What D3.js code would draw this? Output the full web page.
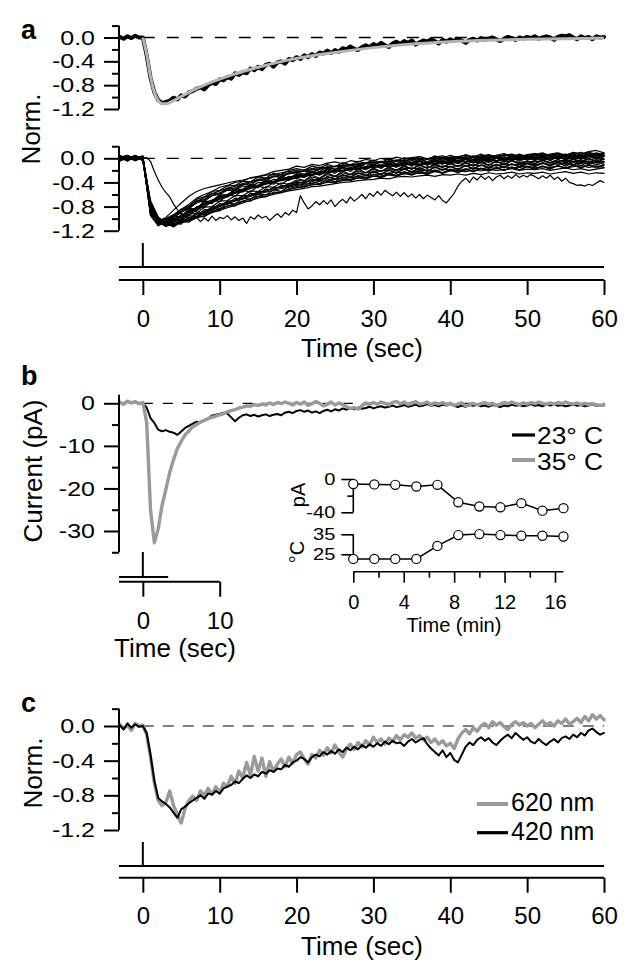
<!DOCTYPE html>
<html><head><meta charset="utf-8">
<script src="https://cdn.jsdelivr.net/npm/d3@7"></script>
<style>
body{margin:0;background:#fff}
svg{display:block}
text{font-family:"Liberation Sans",Arial,Helvetica,sans-serif;fill:#000}
</style>
</head><body>
<svg id="fig" width="630" height="975"></svg>
<script>
// ---------- sampling of the traces ----------
const T0 = -3;          // first sample time (s)
const DT = 0.5;         // sample step of single traces (s)
const DT_BUNDLE = 1;    // sample step of the bundle traces (s)

// ---------- panel a (top): mean normalized response and fit ----------
const aMean = [0.01,-0.02,0.02,-0.01,0.03,0.00,
 0.00,-0.30,-0.68,-0.92,-1.05,-1.10,-1.08,-1.06,-1.01,-1.04,-0.97,-0.99,-0.92,-0.90,-0.86,-0.84,-0.87,-0.80,-0.76,-0.78,-0.70,
 -0.72,-0.66,-0.69,-0.60,-0.63,-0.58,-0.60,-0.52,-0.55,-0.49,-0.53,-0.46,-0.44,-0.49,-0.42,-0.40,-0.44,-0.36,-0.38,-0.33,
 -0.36,-0.30,-0.33,-0.28,-0.31,-0.25,-0.27,-0.22,-0.26,-0.21,-0.24,-0.18,-0.20,-0.15,-0.19,-0.21,-0.16,-0.13,-0.16,-0.11,
 -0.14,-0.09,-0.13,-0.16,-0.10,-0.07,-0.11,-0.06,-0.09,-0.05,-0.12,-0.08,-0.05,-0.07,-0.03,-0.06,-0.10,-0.04,-0.07,-0.03,
 -0.06,-0.02,-0.05,-0.09,-0.04,-0.02,-0.05,-0.01,-0.04,-0.02,0.00,-0.03,-0.06,-0.02,0.01,-0.01,-0.04,0.00,-0.02,0.01,
 -0.01,0.02,-0.02,0.00,0.02,0.00,-0.04,0.01,0.03,0.02,0.04,0.00,-0.03,0.02,-0.01,0.01,-0.03,0.02,0.00,0.01];
const aFitTime = [0,0.5,1,1.5,2,2.5,3,4,5,6,8,10,12,15,20,25,30,35,40,45,50,55,60];
const aFit = [0,-0.28,-0.66,-0.92,-1.06,-1.11,-1.11,-1.06,-0.99,-0.92,-0.80,-0.70,-0.61,-0.50,-0.35,-0.25,-0.17,-0.11,-0.07,-0.045,-0.03,-0.02,-0.01];

// ---------- panel a (bottom): individual responses (1 s samples) ----------
const aBundle = [
 [0.02,-0.03,0.04,0.00, -0.80,-1.02,-1.00,-0.93,-0.85,-0.76,-0.66,-0.60,-0.55,-0.48, -0.45,-0.40,-0.38,-0.32,-0.30,-0.27,-0.22,-0.20,-0.18,-0.13, -0.15,-0.10,-0.12,-0.08,-0.06,-0.09,-0.04,-0.06,-0.02,-0.04, 0.00,-0.03,0.02,-0.01,0.01,0.03,-0.01,0.02,0.04,0.00, 0.03,0.05,0.01,0.04,0.06,0.02,0.05,0.07,0.03,0.06, 0.08,0.04,0.07,0.09,0.05,0.10,0.07,0.11,0.13,0.09],
 [-0.02,0.03,-0.01,0.02, -0.88,-1.06,-1.04,-0.97,-0.90,-0.82,-0.74,-0.68,-0.62,-0.57, -0.52,-0.49,-0.44,-0.41,-0.37,-0.35,-0.31,-0.29,-0.26,-0.24, -0.21,-0.23,-0.18,-0.16,-0.18,-0.13,-0.12,-0.14,-0.09,-0.10, -0.07,-0.09,-0.05,-0.07,-0.04,-0.06,-0.02,-0.05,-0.01,-0.03, 0.00,-0.02,0.01,-0.03,0.02,0.00,0.03,-0.01,0.02,0.04, 0.01,0.03,0.00,0.04,0.02,0.05,0.01,0.04,0.06,0.03],
 [0.03,0.00,0.04,-0.02, -0.75,-1.00,-1.08,-1.05,-1.00,-0.93,-0.86,-0.79,-0.73,-0.68, -0.64,-0.58,-0.55,-0.50,-0.47,-0.42,-0.40,-0.36,-0.34,-0.30, -0.28,-0.26,-0.27,-0.22,-0.20,-0.22,-0.17,-0.16,-0.18,-0.13, -0.12,-0.14,-0.10,-0.11,-0.08,-0.10,-0.07,-0.09,-0.05,-0.07, -0.04,-0.06,-0.03,-0.05,-0.02,-0.04,-0.01,-0.03,0.00,-0.02, 0.01,-0.03,0.00,0.02,-0.02,0.01,-0.01,0.03,0.00,-0.02],
 [-0.01,0.02,-0.03,0.01, -0.82,-1.04,-1.10,-1.08,-1.04,-0.99,-0.93,-0.88,-0.83,-0.78, -0.73,-0.69,-0.64,-0.61,-0.57,-0.53,-0.50,-0.47,-0.45,-0.42, -0.39,-0.37,-0.35,-0.33,-0.30,-0.29,-0.27,-0.25,-0.24,-0.22, -0.21,-0.19,-0.20,-0.17,-0.16,-0.18,-0.14,-0.15,-0.13,-0.14, -0.12,-0.13,-0.11,-0.12,-0.10,-0.13,-0.09,-0.11,-0.10,-0.08, -0.11,-0.09,-0.07,-0.10,-0.08,-0.11,-0.07,-0.09,-0.06,-0.10],
 [0.04,-0.01,0.02,0.00, -0.78,-1.02,-1.09,-1.10,-1.07,-1.03,-0.99,-0.95,-0.90,-0.86, -0.82,-0.78,-0.74,-0.70,-0.66,-0.63,-0.60,-0.57,-0.54,-0.52, -0.50,-0.47,-0.46,-0.44,-0.42,-0.40,-0.39,-0.37,-0.36,-0.35, -0.33,-0.34,-0.31,-0.30,-0.31,-0.29,-0.28,-0.30,-0.27,-0.28, -0.26,-0.28,-0.25,-0.27,-0.24,-0.26,-0.25,-0.23,-0.26,-0.24, -0.25,-0.23,-0.26,-0.24,-0.22,-0.25,-0.23,-0.26,-0.24,-0.25],
 [-0.03,0.01,0.03,-0.01, -0.90,-1.08,-1.06,-1.01,-0.95,-0.88,-0.81,-0.75,-0.70,-0.65, -0.60,-0.56,-0.52,-0.48,-0.45,-0.41,-0.39,-0.35,-0.33,-0.31, -0.29,-0.27,-0.24,-0.23,-0.21,-0.20,-0.18,-0.19,-0.16,-0.15, -0.14,-0.12,-0.14,-0.11,-0.10,-0.12,-0.09,-0.10,-0.08,-0.09, -0.07,-0.09,-0.06,-0.08,-0.05,-0.07,-0.06,-0.04,-0.07,-0.05, -0.06,-0.04,-0.07,-0.05,-0.03,-0.06,-0.04,-0.07,-0.05,-0.06],
 [0.01,-0.02,0.00,0.03, -0.93,-1.05,-0.98,-0.86,-0.74,-0.63,-0.55,-0.50,-0.47,-0.44, -0.41,-0.38,-0.36,-0.33,-0.31,-0.28,-0.27,-0.24,-0.22,-0.20, -0.19,-0.17,-0.15,-0.16,-0.13,-0.11,-0.12,-0.09,-0.08,-0.06, -0.07,-0.05,-0.03,-0.04,-0.02,-0.03,0.00,-0.02,0.01,-0.01, 0.02,0.00,0.03,0.01,0.04,0.02,0.00,0.03,0.05,0.02, 0.04,0.06,0.03,0.05,0.07,0.04,0.06,0.03,0.08,0.05],
 [0.02,0.05,-0.02,0.01, -0.70,-0.98,-1.07,-1.09,-1.06,-1.01,-0.96,-0.90,-0.85,-0.80, -0.75,-0.71,-0.67,-0.63,-0.59,-0.56,-0.53,-0.50,-0.48,-0.45, -0.43,-0.41,-0.38,-0.37,-0.35,-0.33,-0.32,-0.30,-0.29,-0.27, -0.26,-0.25,-0.23,-0.24,-0.22,-0.21,-0.19,-0.21,-0.18,-0.19, -0.17,-0.19,-0.16,-0.18,-0.15,-0.17,-0.14,-0.16,-0.15,-0.13, -0.16,-0.14,-0.15,-0.13,-0.16,-0.14,-0.12,-0.15,-0.13,-0.15],
 [-0.04,0.00,0.02,0.00, -0.86,-1.07,-1.08,-1.03,-0.97,-0.90,-0.84,-0.77,-0.72,-0.66, -0.62,-0.57,-0.53,-0.50,-0.46,-0.43,-0.40,-0.37,-0.35,-0.32, -0.30,-0.28,-0.25,-0.24,-0.22,-0.20,-0.19,-0.17,-0.15,-0.14, -0.13,-0.11,-0.12,-0.09,-0.08,-0.10,-0.07,-0.06,-0.08,-0.05, -0.04,-0.06,-0.03,-0.05,-0.02,-0.04,-0.01,-0.03,0.00,-0.02, 0.00,0.02,-0.01,0.01,0.03,0.00,0.02,0.04,0.01,0.03],
 [0.00,0.03,-0.02,0.02, -0.80,-1.03,-1.12,-1.10,-1.06,-1.02,-0.97,-0.92,-0.88,-0.83, -0.79,-0.75,-0.71,-0.67,-0.63,-0.60,-0.58,-0.55,-0.52,-0.49, -0.47,-0.44,-0.42,-0.40,-0.39,-0.37,-0.35,-0.33,-0.32,-0.30, -0.29,-0.27,-0.28,-0.26,-0.24,-0.25,-0.23,-0.22,-0.24,-0.21, -0.20,-0.22,-0.19,-0.21,-0.18,-0.20,-0.19,-0.17,-0.20,-0.18, -0.19,-0.17,-0.20,-0.18,-0.16,-0.19,-0.17,-0.20,-0.18,-0.16],
 [0.03,-0.02,0.01,-0.03, -0.84,-1.05,-1.03,-0.96,-0.88,-0.80,-0.72,-0.65,-0.59,-0.54, -0.50,-0.46,-0.42,-0.39,-0.35,-0.33,-0.30,-0.27,-0.25,-0.23, -0.21,-0.19,-0.17,-0.15,-0.14,-0.12,-0.10,-0.11,-0.08,-0.07, -0.05,-0.06,-0.03,-0.04,-0.02,0.00,-0.01,0.01,-0.01,0.02, 0.03,0.01,0.04,0.02,0.05,0.03,0.06,0.04,0.02,0.05, 0.07,0.04,0.06,0.08,0.05,0.09,0.06,0.10,0.07,0.08],
 [0.04,-0.03,0.02,-0.02, -0.91,-1.09,-1.02,-0.95,-0.84,-0.79,-0.68,-0.64,-0.55,-0.53, -0.46,-0.45,-0.38,-0.39,-0.31,-0.33,-0.25,-0.27,-0.20,-0.17, -0.20,-0.13,-0.16,-0.10,-0.14,-0.07,-0.11,-0.05,-0.08,-0.03, -0.07,-0.01,-0.05,0.01,-0.03,0.03,-0.02,0.04,0.00,0.05, 0.01,0.06,0.02,0.07,0.01,0.05,0.08,0.03,0.07,0.02, 0.06,0.09,0.04,0.08,0.03,0.07,0.10,0.05,0.09,0.06],
 [-0.03,0.04,0.00,0.03, -0.77,-1.01,-1.10,-1.01,-0.97,-0.86,-0.83,-0.72,-0.70,-0.61, -0.60,-0.52,-0.51,-0.44,-0.45,-0.37,-0.39,-0.31,-0.33,-0.27, -0.29,-0.22,-0.25,-0.18,-0.22,-0.15,-0.19,-0.13,-0.16,-0.10, -0.14,-0.08,-0.12,-0.06,-0.10,-0.04,-0.09,-0.03,-0.07,-0.02, -0.06,0.00,-0.05,0.01,-0.04,0.02,-0.03,0.03,-0.02,0.02, -0.02,0.04,-0.01,0.03,0.05,0.00,0.04,0.06,0.02,0.05],
 [0.01,-0.04,0.03,0.00, -0.85,-1.06,-1.13,-1.05,-1.03,-0.93,-0.91,-0.81,-0.80,-0.71, -0.70,-0.62,-0.62,-0.54,-0.55,-0.47,-0.48,-0.41,-0.43,-0.36, -0.38,-0.31,-0.34,-0.27,-0.30,-0.24,-0.27,-0.21,-0.24,-0.18, -0.22,-0.16,-0.20,-0.14,-0.18,-0.12,-0.16,-0.11,-0.15,-0.09, -0.13,-0.08,-0.12,-0.06,-0.11,-0.05,-0.10,-0.04,-0.08,-0.05, -0.09,-0.03,-0.07,-0.02,-0.06,-0.01,-0.05,0.00,-0.04,-0.01],
 [-0.02,0.02,-0.04,0.02, -0.72,-0.97,-1.09,-1.12,-1.02,-1.01,-0.91,-0.90,-0.80,-0.79, -0.71,-0.70,-0.62,-0.62,-0.55,-0.55,-0.48,-0.49,-0.42,-0.40, -0.41,-0.35,-0.37,-0.31,-0.34,-0.28,-0.31,-0.25,-0.28,-0.23, -0.26,-0.20,-0.24,-0.18,-0.22,-0.17,-0.21,-0.15,-0.19,-0.14, -0.18,-0.12,-0.17,-0.11,-0.15,-0.10,-0.14,-0.09,-0.13,-0.08, -0.12,-0.07,-0.11,-0.06,-0.10,-0.05,-0.09,-0.04,-0.08,-0.05],
 [0.03,0.00,0.05,-0.01, -0.83,-1.05,-1.08,-1.14,-1.05,-1.06,-0.96,-0.97,-0.88,-0.87, -0.79,-0.79,-0.71,-0.71,-0.63,-0.64,-0.56,-0.57,-0.50,-0.47, -0.48,-0.42,-0.44,-0.38,-0.41,-0.35,-0.37,-0.32,-0.35,-0.29, -0.32,-0.27,-0.30,-0.25,-0.28,-0.23,-0.27,-0.21,-0.25,-0.20, -0.24,-0.19,-0.22,-0.17,-0.21,-0.16,-0.20,-0.15,-0.19,-0.14, -0.18,-0.13,-0.17,-0.12,-0.16,-0.11,-0.15,-0.10,-0.14,-0.11],
 [-0.04,0.01,-0.01,0.04, -0.95,-1.12,-1.04,-1.00,-0.88,-0.84,-0.73,-0.71,-0.62,-0.60, -0.53,-0.53,-0.46,-0.47,-0.40,-0.41,-0.35,-0.36,-0.30,-0.31, -0.26,-0.28,-0.22,-0.24,-0.19,-0.21,-0.16,-0.19,-0.14,-0.16, -0.11,-0.14,-0.09,-0.12,-0.07,-0.11,-0.06,-0.09,-0.04,-0.08, -0.03,-0.07,-0.02,-0.05,0.00,-0.04,0.01,-0.03,0.02,-0.01, 0.03,-0.01,0.04,0.00,0.05,0.01,0.06,0.02,0.07,0.04],
 [0.05,-0.04,0.03,-0.03, -0.87,-1.10,-1.00,-0.99,-0.85,-0.82,-0.70,-0.69,-0.58,-0.59, -0.49,-0.52,-0.42,-0.45,-0.35,-0.39,-0.29,-0.33,-0.24,-0.22, -0.27,-0.17,-0.22,-0.13,-0.19,-0.11,-0.16,-0.08,-0.14,-0.06, -0.12,-0.04,-0.10,-0.02,-0.08,-0.01,-0.07,0.01,-0.05,0.02, -0.04,0.03,-0.03,0.04,-0.02,0.05,-0.01,0.06,0.00,0.05, 0.01,0.07,0.02,0.08,0.01,0.07,0.03,0.09,0.04,0.08],
 [-0.05,0.03,-0.02,0.04, -0.80,-1.04,-1.12,-1.00,-1.01,-0.87,-0.88,-0.74,-0.75,-0.63, -0.64,-0.53,-0.56,-0.45,-0.49,-0.38,-0.43,-0.32,-0.37,-0.28, -0.32,-0.23,-0.28,-0.19,-0.25,-0.16,-0.22,-0.13,-0.19,-0.11, -0.17,-0.09,-0.15,-0.07,-0.13,-0.05,-0.12,-0.04,-0.10,-0.03, -0.09,-0.02,-0.08,-0.01,-0.07,0.00,-0.06,0.01,-0.05,0.01, -0.04,0.02,-0.04,0.03,-0.03,0.03,-0.02,0.04,-0.02,0.03],
 [0.02,-0.05,0.04,-0.02, -0.90,-1.08,-1.04,-1.07,-0.93,-0.94,-0.80,-0.82,-0.69,-0.72, -0.60,-0.63,-0.53,-0.56,-0.46,-0.49,-0.40,-0.43,-0.35,-0.33, -0.37,-0.28,-0.33,-0.24,-0.30,-0.21,-0.27,-0.18,-0.24,-0.16, -0.22,-0.14,-0.20,-0.12,-0.18,-0.10,-0.17,-0.09,-0.15,-0.08, -0.14,-0.07,-0.13,-0.06,-0.12,-0.05,-0.11,-0.04,-0.10,-0.04, -0.09,-0.03,-0.08,-0.02,-0.08,-0.02,-0.07,-0.01,-0.06,-0.02],
 [-0.03,0.04,-0.01,0.01, -0.76,-1.00,-1.11,-1.08,-1.09,-0.95,-0.97,-0.85,-0.86,-0.75, -0.77,-0.66,-0.68,-0.58,-0.60,-0.51,-0.53,-0.45,-0.47,-0.38, -0.42,-0.34,-0.38,-0.30,-0.35,-0.27,-0.32,-0.24,-0.29,-0.21, -0.27,-0.19,-0.25,-0.17,-0.23,-0.15,-0.22,-0.14,-0.20,-0.13, -0.19,-0.12,-0.18,-0.11,-0.17,-0.10,-0.16,-0.09,-0.15,-0.09, -0.14,-0.08,-0.13,-0.07,-0.13,-0.07,-0.12,-0.06,-0.11,-0.07],
 [0.04,-0.01,0.03,-0.04, -0.84,-1.07,-1.06,-1.13,-1.01,-1.04,-0.91,-0.94,-0.82,-0.85, -0.74,-0.76,-0.66,-0.68,-0.59,-0.61,-0.52,-0.55,-0.46,-0.43, -0.46,-0.38,-0.42,-0.34,-0.39,-0.31,-0.36,-0.28,-0.33,-0.26, -0.31,-0.24,-0.29,-0.22,-0.27,-0.20,-0.26,-0.19,-0.24,-0.18, -0.23,-0.17,-0.22,-0.16,-0.21,-0.15,-0.20,-0.14,-0.19,-0.14, -0.18,-0.13,-0.18,-0.12,-0.17,-0.12,-0.16,-0.11,-0.16,-0.12],
 [-0.01,0.05,-0.04,0.02, -0.93,-1.05,-1.08,-0.96,-0.97,-0.83,-0.84,-0.71,-0.73,-0.61, -0.62,-0.51,-0.53,-0.43,-0.46,-0.36,-0.40,-0.30,-0.34,-0.25, -0.29,-0.21,-0.25,-0.17,-0.22,-0.14,-0.19,-0.11,-0.17,-0.09, -0.15,-0.07,-0.13,-0.05,-0.11,-0.04,-0.10,-0.02,-0.08,-0.01, -0.07,0.00,-0.06,0.01,-0.05,0.02,-0.04,0.03,-0.03,0.03, -0.02,0.04,-0.02,0.05,-0.01,0.05,0.00,0.06,0.01,0.05]
];
// slow, delayed response (0.5 s samples)
const aSlow = [0.03,-0.02,0.04,0.01,-0.03,0.02,
 0.00,0.01,-0.05,-0.22,-0.36,-0.48,-0.57,-0.64,-0.76,-0.85,-0.91,-0.96,-0.99,-1.02,-0.98,-1.05,-0.99,-1.04,-0.96,-1.03,-0.98,
 -1.00,-0.95,-1.02,-0.97,-1.03,-0.99,-1.08,-0.97,-1.01,-0.94,-0.99,-0.96,-1.03,-0.97,-0.92,-0.98,-0.90,-0.94,-0.86,-0.90,
 -0.62,-0.74,-0.84,-0.79,-0.72,-0.77,-0.70,-0.76,-0.69,-0.80,-0.73,-0.68,-0.74,-0.64,-0.71,-0.66,-0.60,-0.67,-0.58,-0.63,
 -0.55,-0.61,-0.53,-0.58,-0.62,-0.56,-0.63,-0.57,-0.64,-0.59,-0.66,-0.60,-0.67,-0.61,-0.65,-0.69,-0.62,-0.70,-0.74,-0.66,
 -0.58,-0.46,-0.38,-0.33,-0.40,-0.31,-0.36,-0.29,-0.35,-0.30,-0.37,-0.31,-0.28,-0.34,-0.29,-0.33,-0.27,-0.32,-0.28,-0.31,
 -0.27,-0.30,-0.34,-0.29,-0.33,-0.28,-0.35,-0.31,-0.38,-0.33,-0.40,-0.42,-0.45,-0.44,-0.46,-0.43,-0.45,-0.41,-0.37,-0.40];

// ---------- panel b: current at two temperatures (pA) ----------
const bNames = ["23\u00B0 C", "35\u00B0 C"];
const b23 = [0.2,-0.3,0.4,0.0,0.3,-0.1,
 0.1,-1.0,-3.5,-4.6,-6.2,-6.6,-6.3,-6.7,-6.9,-7.4,-6.6,-5.8,-5.3,-4.8,-4.3,-4.5,-3.9,-3.6,-2.9,-2.7,-2.5,
 -2.2,-2.4,-3.3,-4.2,-3.4,-2.8,-2.6,-3.0,-2.7,-3.1,-2.8,-2.6,-3.0,-2.7,-2.5,-2.8,-2.2,-2.0,-2.3,-1.8,
 -1.6,-2.0,-1.7,-2.2,-1.9,-2.3,-1.8,-1.5,-1.9,-1.4,-1.7,-1.2,-1.5,-1.1,-1.4,-1.0,-1.3,-1.1,-0.8,-1.2,
 -0.9,-0.7,-1.0,-0.8,-0.5,-0.9,-0.7,-0.4,-0.8,-0.6,-0.3,-0.7,-0.5,-0.2,-0.6,-0.4,-0.7,-0.3,-0.5,-0.2,
 -0.6,-0.9,-0.5,-0.8,-0.4,-0.6,-0.3,-0.7,-0.5,-0.8,-0.4,-0.6,-0.9,-0.5,-0.7,-0.3,-0.6,-0.4,-0.7,-0.5,
 -0.2,-0.6,-0.4,-0.7,-0.3,-0.5,-0.2,-0.6,-0.4,-0.7,-0.5,-0.3,-0.6,-0.4,-0.7,-0.5,-0.3,-0.6,-0.4,-0.5];
const b35 = [0.3,-0.2,0.5,0.1,0.4,-0.1,
 0.2,-4.5,-25.0,-32.8,-29.5,-24.0,-20.2,-16.2,-13.2,-10.6,-8.9,-7.4,-6.5,-5.5,-5.0,-4.4,-4.0,-3.6,-3.3,-3.0,-2.7,
 -2.4,-2.0,-1.7,-1.5,-1.1,-0.9,-0.6,-0.7,-0.3,-0.5,-0.2,-0.4,0.1,-0.3,0.2,-0.1,0.3,0.0,-0.4,0.2,
 -0.2,0.3,-0.5,-0.1,0.4,0.0,-0.6,-0.2,0.3,-0.4,0.1,-0.3,-0.8,-1.2,-1.0,-1.4,-0.6,0.1,-0.3,0.2,
 -0.2,0.3,0.0,-0.4,0.2,0.4,-0.1,0.3,-0.3,0.1,0.4,-0.2,0.0,0.3,-0.4,0.1,-0.2,0.2,-0.3,0.0,
 -0.5,-0.2,0.1,-0.6,-0.3,0.0,-0.4,-0.1,0.2,-0.3,0.0,-0.5,-0.2,0.2,-0.1,0.3,0.0,-0.3,0.1,-0.2,
 0.2,-0.1,0.3,0.0,-0.3,0.1,-0.2,0.2,-0.1,0.3,0.0,-0.2,0.1,-0.3,0.0,-0.4,-0.1,-0.3,-0.5,-0.3];

// inset: peak current and temperature over time
const insetTime = [0,1.67,3.33,5,6.67,8.33,10,11.67,13.33,15,16.67];
const insetCurrent = [-6,-6.5,-7,-9,-7,-28,-33,-34,-29,-38,-35];
const insetTemp = [22.7,22.7,22.7,22.7,29.2,34.6,35.1,34.6,34.3,34.3,33.9];

// ---------- panel c: two wavelengths ----------
const cNames = ["620 nm", "420 nm"];
const c620 = [0.02,-0.03,0.01,-0.05,0.03,0.00,
 0.01,-0.10,-0.36,-0.66,-0.86,-0.92,-0.88,-0.75,-0.92,-1.02,-1.12,-0.95,-0.86,-0.81,-0.86,-0.75,-0.80,-0.72,-0.79,-0.70,-0.77,
 -0.66,-0.70,-0.58,-0.66,-0.52,-0.60,-0.42,-0.57,-0.35,-0.52,-0.37,-0.58,-0.41,-0.52,-0.44,-0.38,-0.47,-0.36,-0.43,-0.33,
 -0.30,-0.38,-0.44,-0.33,-0.37,-0.28,-0.34,-0.25,-0.31,-0.22,-0.30,-0.36,-0.26,-0.21,-0.27,-0.19,-0.24,-0.17,-0.22,-0.13,
 -0.19,-0.15,-0.21,-0.14,-0.18,-0.11,-0.16,-0.10,-0.13,-0.08,-0.14,-0.11,-0.16,-0.13,-0.19,-0.15,-0.21,-0.17,-0.23,-0.20,
 -0.26,-0.15,-0.08,-0.04,-0.09,-0.02,-0.06,0.00,0.03,-0.02,0.05,0.01,0.04,-0.01,-0.04,0.02,0.05,0.01,0.04,0.00,
 0.03,-0.02,0.02,0.06,0.01,0.04,0.00,0.06,0.03,0.08,0.02,0.05,0.09,0.04,0.11,0.06,0.13,0.08,0.12,0.07];
const c420 = [0.01,-0.04,0.03,-0.02,0.02,-0.01,
 0.00,-0.08,-0.33,-0.63,-0.83,-0.87,-0.90,-0.94,-1.00,-1.06,-0.96,-0.93,-0.89,-0.86,-0.83,-0.80,-0.84,-0.78,-0.79,-0.75,-0.78,
 -0.72,-0.70,-0.68,-0.64,-0.66,-0.61,-0.57,-0.60,-0.56,-0.58,-0.53,-0.55,-0.51,-0.53,-0.49,-0.50,-0.45,-0.47,-0.42,-0.40,
 -0.36,-0.38,-0.42,-0.36,-0.33,-0.35,-0.30,-0.33,-0.29,-0.32,-0.27,-0.30,-0.25,-0.28,-0.24,-0.27,-0.22,-0.25,-0.21,-0.24,
 -0.20,-0.23,-0.18,-0.21,-0.17,-0.20,-0.19,-0.23,-0.18,-0.15,-0.19,-0.16,-0.14,-0.21,-0.26,-0.30,-0.34,-0.28,-0.36,-0.31,
 -0.39,-0.42,-0.33,-0.24,-0.19,-0.22,-0.16,-0.13,-0.17,-0.14,-0.19,-0.22,-0.17,-0.13,-0.10,-0.14,-0.08,-0.12,-0.16,-0.13,
 -0.18,-0.20,-0.15,-0.19,-0.22,-0.18,-0.15,-0.19,-0.14,-0.12,-0.15,-0.10,-0.13,-0.08,-0.11,-0.05,-0.03,-0.07,-0.10,-0.08];

// ---------- ticks ----------
const timeTicks = [0,10,20,30,40,50,60];
const timeTicksB = [0,10];
const normMajor = [0,-0.4,-0.8,-1.2];
const normLabels = ["0.0","-0.4","-0.8","-1.2"];
const normMinor = [0.2,-0.2,-0.6,-1.0];
const curMajor = [0,-10,-20,-30];
const curLabels = ["0","-10","-20","-30"];
const curMinor = [-5,-15,-25,-35];
const insetXMajor = [0,4,8,12,16];
const insetXMinor = [2,6,10,14];
const insetPAMajor = [0,-40], insetPALabels = ["0","-40"], insetPAMinor = [-20];
const insetTMajor = [35,25], insetTLabels = ["35","25"];

// ================= drawing =================
const svg = d3.select("#fig");
const BLACK = "#000", GRAY = "#9a9a9a", FITGRAY = "#b4b4b4";

const x = d3.scaleLinear().domain([-3.1, 60]).range([119, 604]);
const yA1 = d3.scaleLinear().domain([0, -1.2]).range([37.5, 109]);
const yA2 = d3.scaleLinear().domain([0, -1.2]).range([158.3, 230.7]);
const yB = d3.scaleLinear().domain([0, -30]).range([403.3, 531]);
const yC = d3.scaleLinear().domain([0, -1.2]).range([726, 830]);
const xI = d3.scaleLinear().domain([0, 16]).range([353.3, 555]);
const yIpA = d3.scaleLinear().domain([0, -40]).range([479, 512.3]);
const yIT = d3.scaleLinear().domain([25, 35]).range([554.3, 534.3]);

function leftAxis(scale, xPos, top, bottom, majors, labels, minors, o) {
  const g = svg.append("g").attr("transform", `translate(${xPos},0)`);
  g.append("line").attr("x1", 0).attr("x2", 0)
    .attr("y1", scale(top)).attr("y2", scale(bottom))
    .attr("stroke", BLACK).attr("stroke-width", o.w);
  const gm = g.append("g").call(d3.axisLeft(scale).tickValues(majors)
    .tickSize(o.major).tickPadding(o.pad).tickFormat((d, i) => labels[i]));
  gm.select(".domain").remove();
  gm.attr("font-size", o.font);
  gm.selectAll("line").attr("stroke", BLACK).attr("stroke-width", o.w);
  gm.selectAll("text").attr("fill", BLACK).attr("x", 0)
    .attr("transform", `translate(${-(o.major + o.pad)},0) scale(${o.sx || 1},1)`);
  if (minors && minors.length) {
    const gn = g.append("g").call(d3.axisLeft(scale).tickValues(minors)
      .tickSize(o.minor).tickFormat(""));
    gn.select(".domain").remove();
    gn.selectAll("line").attr("stroke", BLACK).attr("stroke-width", o.w);
  }
}
function bottomAxis(scale, yPos, from, to, majors, minors, o) {
  const g = svg.append("g").attr("transform", `translate(0,${yPos})`);
  g.append("line").attr("y1", 0).attr("y2", 0)
    .attr("x1", scale(from)).attr("x2", scale(to))
    .attr("stroke", BLACK).attr("stroke-width", o.w);
  const gm = g.append("g").call(d3.axisBottom(scale).tickValues(majors)
    .tickSize(o.major).tickPadding(o.pad).tickFormat(d3.format("d")));
  gm.select(".domain").remove();
  gm.attr("font-size", o.font);
  gm.selectAll("line").attr("stroke", BLACK).attr("stroke-width", o.w);
  gm.selectAll("text").attr("fill", BLACK);
  if (minors && minors.length) {
    const gn = g.append("g").call(d3.axisBottom(scale).tickValues(minors)
      .tickSize(o.minor).tickFormat(""));
    gn.select(".domain").remove();
    gn.selectAll("line").attr("stroke", BLACK).attr("stroke-width", o.w);
  }
}
function trace(vals, t0, dt, ys, color, w, curve) {
  const line = d3.line().x((d, i) => x(t0 + i * dt)).y(d => ys(d));
  if (curve) line.curve(curve);
  svg.append("path").datum(vals).attr("d", line)
    .attr("fill", "none").attr("stroke", color).attr("stroke-width", w)
    .attr("stroke-linejoin", "round").attr("stroke-linecap", "round");
}
function zeroLine(ys, dash, w) {
  svg.append("line").attr("x1", x(0)).attr("x2", x(60))
    .attr("y1", ys(0)).attr("y2", ys(0))
    .attr("stroke", BLACK).attr("stroke-width", w).attr("stroke-dasharray", dash);
}
function vTitle(txt, xb, yc, size) {
  svg.append("text").attr("transform", `translate(${xb},${yc}) rotate(-90)`)
    .attr("text-anchor", "middle").attr("font-size", size).text(txt);
}
function text(txt, xx, yy, size, anchor, weight, sx) {
  svg.append("text").attr("transform", `translate(${xx},${yy}) scale(${sx || 1},1)`)
    .attr("font-size", size)
    .attr("text-anchor", anchor || "start").attr("font-weight", weight || "normal").text(txt);
}
function hline(x1, x2, yy, w, color) {
  svg.append("line").attr("x1", x1).attr("x2", x2).attr("y1", yy).attr("y2", yy)
    .attr("stroke", color || BLACK).attr("stroke-width", w);
}
function vline(xx, y1, y2, w) {
  svg.append("line").attr("x1", xx).attr("x2", xx).attr("y1", y1).attr("y2", y2)
    .attr("stroke", BLACK).attr("stroke-width", w);
}

const AX = {w: 2, major: 15, minor: 7, pad: 9, font: 20.5, sx: 1.22};
const XAX = {w: 2, major: 15, pad: 15, font: 24};

// ----- panel a -----
text("a", 21, 38.5, 27, "start", "bold");
zeroLine(yA1, "12,12", 1.3);
trace(aMean, T0, DT, yA1, BLACK, 4);
svg.append("path").datum(aFit.map((v, i) => [aFitTime[i], v]))
  .attr("d", d3.line().x(d => x(d[0])).y(d => yA1(d[1])).curve(d3.curveMonotoneX))
  .attr("fill", "none").attr("stroke", FITGRAY).attr("stroke-width", 3);
leftAxis(yA1, 119, 0.2, -1.2, normMajor, normLabels, normMinor, AX);

zeroLine(yA2, "12,12", 1.3);
aBundle.forEach(tr => trace(tr, T0, DT_BUNDLE, yA2, BLACK, 1.2));
trace(aSlow, T0, DT, yA2, BLACK, 1.2);
leftAxis(yA2, 119, 0.2, -1.2, normMajor, normLabels, normMinor, AX);
vTitle("Norm.", 40, 129, 26);

// stimulus + time axis
vline(x(0), 243, 267, 2);
hline(x(-3.1), x(60), 267, 2);
bottomAxis(x, 280, -3.1, 60, timeTicks, null, XAX);
text("Time (sec)", 362, 357, 26, "middle");

// ----- panel b -----
text("b", 21, 385, 27, "start", "bold");
zeroLine(yB, "10,10", 1.2);
trace(b23, T0, DT, yB, BLACK, 2);
trace(b35, T0, DT, yB, GRAY, 3.4);
leftAxis(yB, 119, 2, -35, curMajor, curLabels, curMinor, AX);
vTitle("Current (pA)", 42, 471, 26);
vline(x(0), 552, 577, 2);
hline(x(-3.1), x(3.3), 577, 2);
bottomAxis(x, 581.7, -3.1, 10, timeTicksB, null, XAX);
text("Time (sec)", 175, 657, 26, "middle");

// legend b
hline(512, 535, 435, 3.2, BLACK);
text(bNames[0], 537, 443.5, 23.5, "start", "normal", 1.12);
hline(512, 535, 460, 4, GRAY);
text(bNames[1], 537, 470, 23.5, "start", "normal", 1.12);

// inset
const IA = {w: 1.6, major: 12, minor: 6, pad: 6, font: 17, sx: 1.18};
leftAxis(yIpA, 353.3, 0, -40, insetPAMajor, insetPALabels, insetPAMinor, IA);
leftAxis(yIT, 353.3, 35, 25, insetTMajor, insetTLabels, null, IA);
bottomAxis(xI, 571.7, 0, 16.67, insetXMajor, insetXMinor, {w: 1.6, major: 11, minor: 6, pad: 12, font: 20});
vTitle("pA", 305, 495, 20);
vTitle("\u00B0C", 304, 552, 20);
text("Time (min)", 454, 632, 20, "middle");
svg.append("path").datum(insetCurrent)
  .attr("d", d3.line().x((d, i) => xI(insetTime[i])).y(d => yIpA(d)))
  .attr("fill", "none").attr("stroke", BLACK).attr("stroke-width", 1.5);
svg.append("path").datum(insetTemp)
  .attr("d", d3.line().x((d, i) => xI(insetTime[i])).y(d => yIT(d)))
  .attr("fill", "none").attr("stroke", BLACK).attr("stroke-width", 1.5);
svg.selectAll("circle.ic").data(insetCurrent).enter().append("circle")
  .attr("cx", (d, i) => xI(insetTime[i])).attr("cy", d => yIpA(d)).attr("r", 4.6)
  .attr("fill", "#fff").attr("stroke", BLACK).attr("stroke-width", 1.2);
svg.selectAll("circle.it").data(insetTemp).enter().append("circle")
  .attr("cx", (d, i) => xI(insetTime[i])).attr("cy", d => yIT(d)).attr("r", 4.6)
  .attr("fill", "#fff").attr("stroke", BLACK).attr("stroke-width", 1.2);

// ----- panel c -----
text("c", 21, 711.5, 27, "start", "bold");
zeroLine(yC, "11,9", 1.2);
trace(c620, T0, DT, yC, GRAY, 3.4);
trace(c420, T0, DT, yC, BLACK, 2);
leftAxis(yC, 119, 0.2, -1.2, normMajor, normLabels, normMinor, AX);
vTitle("Norm.", 42, 773, 26);
vline(x(0), 842, 866, 2);
hline(x(-3.1), x(60), 866, 2);
bottomAxis(x, 877.7, -3.1, 60, timeTicks, null, {w: 2, major: 15, pad: 14, font: 24});
text("Time (sec)", 362, 955, 26, "middle");

// legend c
hline(477, 508, 804, 4, GRAY);
text(cNames[0], 511, 810.5, 25);
hline(477, 508, 832.7, 3.2, BLACK);
text(cNames[1], 511, 840, 25);
</script>
</body></html>
